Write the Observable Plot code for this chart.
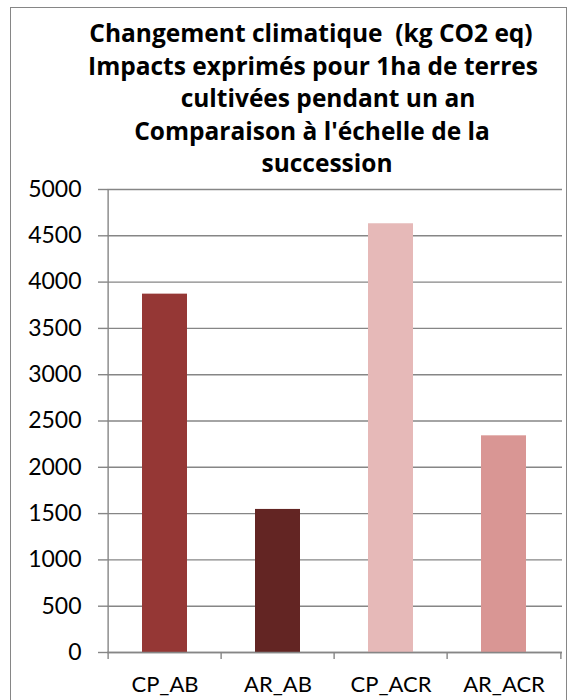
<!DOCTYPE html>
<html><head><meta charset="utf-8">
<script src="https://cdn.jsdelivr.net/npm/d3@7"></script>
<script src="https://cdn.jsdelivr.net/npm/@observablehq/plot@0.6"></script>
<style>
body{margin:0;background:#fff}
#wrap{position:relative;width:577px;height:700px;overflow:hidden;background:#fff;font-variant-ligatures:none}
#frame{position:absolute;left:10px;top:7px;width:557px;height:700px;border:1px solid #868686;box-sizing:border-box}
#chart{position:absolute;left:0;top:0}
#title{position:absolute;left:0;top:0}
svg text{font-variant-ligatures:none}
#title text{white-space:pre}
</style></head><body>
<div id="wrap"><div id="frame"></div><div id="chart"></div><svg id="title" width="577" height="185"></svg></div>
<script>
const categories = ["CP_AB", "AR_AB", "CP_ACR", "AR_ACR"];
const values = [3870, 1545, 4630, 2340];
const colors = ["#953735", "#632523", "#E6B9B8", "#D99694"];
const yTicks = [0, 500, 1000, 1500, 2000, 2500, 3000, 3500, 4000, 4500, 5000];
const titleLines = [
  "Changement climatique  (kg CO2 eq)",
  "Impacts exprimés pour 1ha de terres",
  "cultivées pendant un an",
  "Comparaison à l'échelle de la",
  "succession"
];

const W = 577, H = 700, mL = 107, mR = 15, mT = 189, mB = 48;
const step = (W - mL - mR) / categories.length;
const data = categories.map((c, i) => ({cat: c, value: values[i], color: colors[i]}));
const grey = "#868686";

const plot = Plot.plot({
  width: W, height: H,
  marginLeft: mL, marginRight: mR, marginTop: mT, marginBottom: mB,
  style: {fontFamily: "Lato, 'Open Sans', sans-serif", fontSize: "23px", color: "#000", background: "transparent"},
  x: {domain: categories, paddingInner: 0.6, paddingOuter: 0.3, label: null},
  y: {domain: [0, 5000], label: null},
  color: {type: "identity"},
  marks: [
    Plot.gridY(yTicks, {stroke: grey, strokeOpacity: 1, strokeWidth: 1.4}),
    Plot.barY(data, {x: "cat", y: "value", fill: "color"}),
    Plot.ruleX([categories[0]], {x: d => d, dx: -step / 2, y1: 0, y2: 5000, stroke: grey, strokeWidth: 1.4}),
    Plot.ruleY([0], {stroke: grey, strokeWidth: 1.4}),
    Plot.axisY(yTicks, {tickSize: 9, tickPadding: 17, stroke: grey, strokeWidth: 1.4, fill: "#000", tickFormat: d => String(d), label: null}),
    Plot.axisX(categories, {tickSize: 7, text: null, dx: -step / 2, stroke: grey, strokeWidth: 1.4, label: null}),
    Plot.axisX([categories[categories.length - 1]], {tickSize: 7, text: null, dx: step / 2, stroke: grey, strokeWidth: 1.4, label: null}),
    Plot.axisX(categories, {tickSize: 0, tickPadding: 24, fill: "#000", fontSize: 22, label: null})
  ]
});
document.getElementById("chart").appendChild(plot);

const tsvg = d3.select("#title");
const centers = [311, 313, 328, 312, 327];
tsvg.selectAll("text").data(titleLines).join("text")
  .attr("x", (d, i) => centers[i])
  .attr("y", (d, i) => 42 + i * 32.5)
  .attr("text-anchor", "middle")
  .attr("xml:space", "preserve")
  .attr("font-family", "'Open Sans', Lato, sans-serif")
  .attr("font-weight", "bold")
  .attr("font-size", 24.5)
  .attr("fill", "#000")
  .text(d => d);
</script>
</body></html>
